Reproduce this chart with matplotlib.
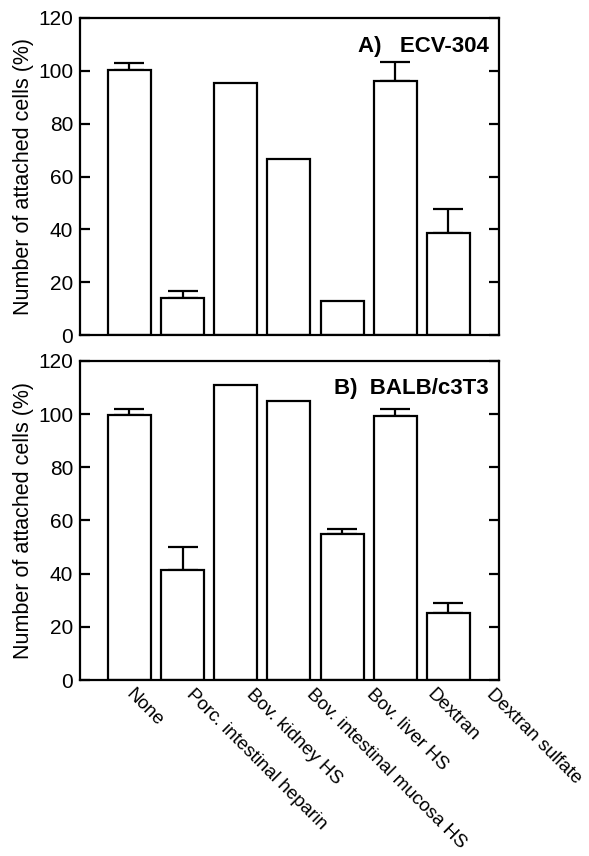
import matplotlib
matplotlib.use("Agg")
import matplotlib.pyplot as plt
import matplotlib.transforms as mtransforms
import numpy as np

plt.rcParams['font.family'] = ['Liberation Sans', 'DejaVu Sans']

categories = ["None", "Porc. intestinal heparin", "Bov. kidney HS",
              "Bov. intestinal mucosa HS", "Bov. liver HS", "Dextran",
              "Dextran sulfate"]
ecv_values = [100.3, 14.1, 95.3, 66.5, 12.9, 96.0, 38.5]
ecv_errors = [2.7, 2.6, 0, 0, 0, 7.5, 9.1]
balb_values = [99.6, 41.4, 110.9, 104.9, 55.1, 99.2, 25.3]
balb_errors = [2.5, 8.5, 0, 0, 1.7, 2.6, 3.7]
yticks = [0, 20, 40, 60, 80, 100, 120]

fig = plt.figure(figsize=(5.89, 8.56), dpi=100)
axA = fig.add_axes([0.1358, 0.6086, 0.7114, 0.3704])
axB = fig.add_axes([0.1358, 0.2056, 0.7114, 0.3727])

x = np.arange(len(categories))
lw = 1.6

for ax, vals, errs, title, ty in [(axA, ecv_values, ecv_errors, "A)   ECV-304", 0.91),
                                  (axB, balb_values, balb_errors, "B)  BALB/c3T3", 0.915)]:
    errs_arr = np.array(errs, dtype=float)
    mask = errs_arr > 0
    ax.errorbar(x[mask], np.array(vals)[mask], yerr=[np.zeros(mask.sum()), errs_arr[mask]],
                fmt='none', ecolor='black', elinewidth=lw, capsize=11, capthick=lw, zorder=1)
    ax.bar(x, vals, width=0.81, facecolor='white', edgecolor='black', linewidth=lw, zorder=2)
    ax.set_xlim(-0.93, 6.95)
    ax.set_ylim(0, 120)
    ax.set_yticks(yticks)
    ax.tick_params(axis='y', direction='in', length=7, width=lw, left=True, right=True,
                   labelsize=15, pad=5)
    ax.tick_params(axis='x', length=0)
    for s in ax.spines.values():
        s.set_linewidth(lw)
    ax.set_ylabel("Number of attached cells (%)", fontsize=15.5, labelpad=3)
    ax.text(0.975, ty, title, transform=ax.transAxes, ha='right', va='center',
            fontsize=16, fontweight='bold')

axA.set_xticks(x)
axA.set_xticklabels([])
axB.set_xticks(x)
axB.set_xticklabels(categories, rotation=-45, ha='left', va='top',
                    rotation_mode='anchor', fontsize=13.6)
axB.tick_params(axis='x', pad=4)
# labels in the original are spread slightly wider than the bars
for i, lab in enumerate(axB.get_xticklabels()):
    offset = mtransforms.ScaledTranslation((5 + 7 * i) / 100, 0, fig.dpi_scale_trans)
    lab.set_transform(lab.get_transform() + offset)

fig.savefig("out.png", dpi=100)
